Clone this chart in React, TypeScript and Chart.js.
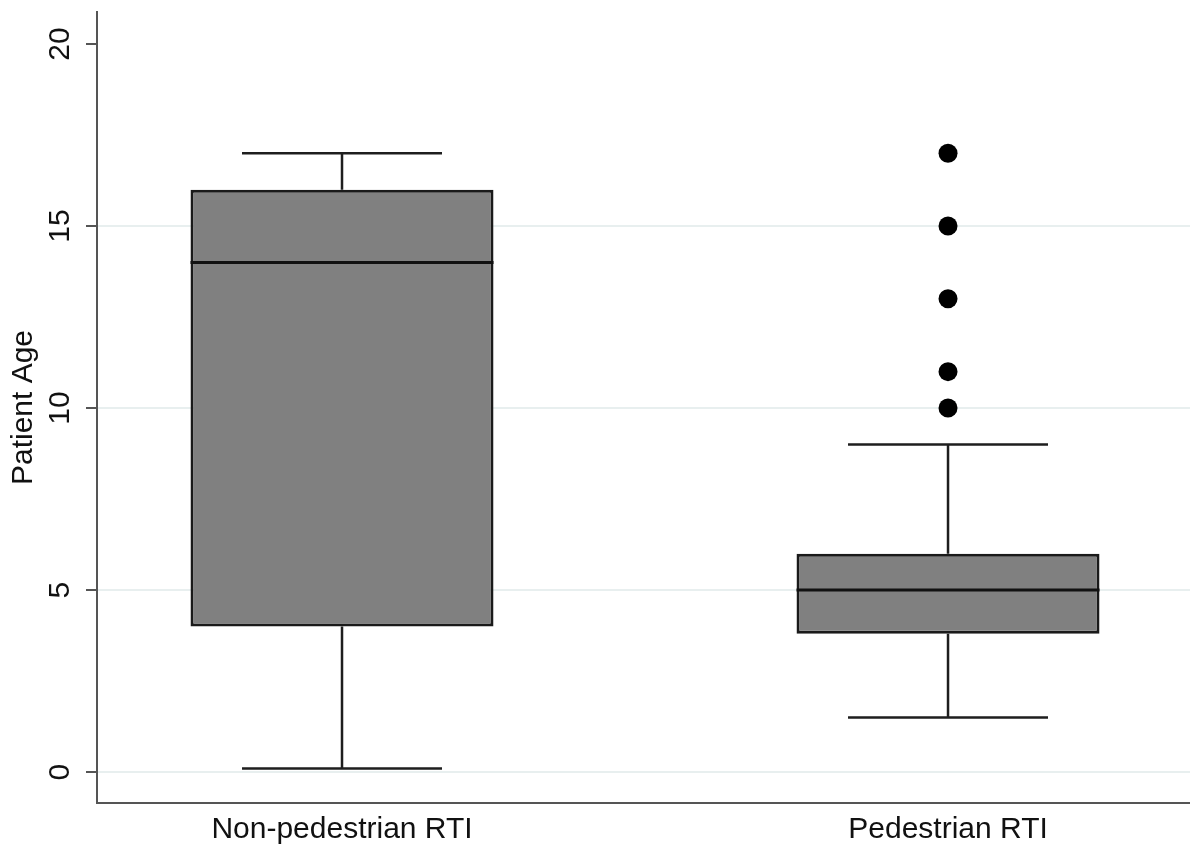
import React, { useEffect, useRef } from "react";
import { Chart, registerables } from "chart.js";

Chart.register(...registerables);

// ---- data ----
const categories = ["Non-pedestrian RTI", "Pedestrian RTI"];
const whiskerLow = [0.1, 1.5];
const q1 = [4, 3.8];
const median = [14, 5];
const q3 = [16, 6];
const whiskerHigh = [17, 9];
const outliersPedestrian = [10, 11, 13, 15, 17];
const yTickValues = [0, 5, 10, 15, 20];
const yTitle = "Patient Age";

const FONT = "'Liberation Sans', Arial, Helvetica, sans-serif";

export default function App() {
  const ref = useRef<HTMLCanvasElement | null>(null);

  useEffect(() => {
    const canvas = ref.current;
    if (!canvas) return;

    const positions = categories.map((_, i) => i + 1);
    const capHalf = 0.165;
    const boxHalf = 0.25;

    const whiskerPts: any[] = [];
    const medianPts: any[] = [];
    positions.forEach((x, i) => {
      whiskerPts.push({ x, y: q3[i] }, { x, y: whiskerHigh[i] }, { x, y: null });
      whiskerPts.push({ x: x - capHalf, y: whiskerHigh[i] }, { x: x + capHalf, y: whiskerHigh[i] }, { x, y: null });
      whiskerPts.push({ x, y: q1[i] }, { x, y: whiskerLow[i] }, { x, y: null });
      whiskerPts.push({ x: x - capHalf, y: whiskerLow[i] }, { x: x + capHalf, y: whiskerLow[i] }, { x, y: null });
      medianPts.push({ x: x - boxHalf, y: median[i] }, { x: x + boxHalf, y: median[i] }, { x, y: null });
    });

    const yLabelPlugin = {
      id: "yRotLabels",
      afterDraw(chart: any) {
        const ctx = chart.ctx;
        const ys = chart.scales.y;
        ctx.save();
        ctx.fillStyle = "#111";
        ctx.font = `30px ${FONT}`;
        ctx.textAlign = "center";
        ctx.textBaseline = "middle";
        yTickValues.forEach((v) => {
          const py = ys.getPixelForValue(v);
          ctx.save();
          ctx.translate(61, py);
          ctx.rotate(-Math.PI / 2);
          ctx.fillText(String(v), 0, 0);
          ctx.restore();
        });
        ctx.restore();
      },
    };

    const chart = new Chart(canvas, {
      type: "bar",
      data: {
        datasets: [
          {
            type: "bar",
            data: positions.map((x, i) => ({ x, y: [q1[i], q3[i]] })) as any,
            backgroundColor: "#808080",
            borderColor: "#1a1a1a",
            borderWidth: 3,
            borderSkipped: false,
            barPercentage: 0.5,
            categoryPercentage: 1,
            order: 3,
          } as any,
          {
            type: "line",
            data: whiskerPts,
            borderColor: "#1e1e1e",
            borderWidth: 2.5,
            pointRadius: 0,
            spanGaps: false,
            fill: false,
            order: 4,
          } as any,
          {
            type: "line",
            data: medianPts,
            borderColor: "#111",
            borderWidth: 3,
            pointRadius: 0,
            spanGaps: false,
            fill: false,
            order: 2,
          } as any,
          {
            type: "scatter",
            data: outliersPedestrian.map((v) => ({ x: positions[1], y: v })),
            backgroundColor: "#000",
            borderColor: "#000",
            pointRadius: 9.5,
            borderWidth: 0,
            order: 1,
          } as any,
        ],
      },
      options: {
        responsive: false,
        animation: false,
        events: [],
        layout: { autoPadding: false, padding: { top: 12, right: 0, bottom: 0, left: 0 } },
        plugins: { legend: { display: false }, tooltip: { enabled: false } },
        scales: {
          x: {
            type: "linear",
            min: 0.5957,
            max: 2.3993,
            offset: false,
            grid: { display: false, drawTicks: false },
            border: { display: true, color: "#555", width: 2 },
            afterBuildTicks: (scale: any) => {
              scale.ticks = positions.map((v) => ({ value: v }));
            },
            afterFit: (scale: any) => {
              scale.height = 50;
              scale.paddingLeft = 0;
              scale.paddingRight = 0;
            },
            ticks: {
              padding: 9,
              autoSkip: false,
              maxRotation: 0,
              minRotation: 0,
              color: "#111",
              font: { family: FONT, size: 30 },
              callback: (v: any) => {
                const idx = positions.indexOf(Number(v));
                return idx >= 0 ? categories[idx] : "";
              },
            },
          },
          y: {
            type: "linear",
            min: -0.85,
            max: 20.88,
            border: { display: true, color: "#555", width: 2 },
            grid: {
              drawTicks: true,
              tickLength: 11,
              tickWidth: 2,
              tickColor: "#555",
              lineWidth: 2,
              color: (c: any) =>
                c.tick && c.tick.value < 20 && c.tick.value >= 0 ? "#e8efef" : "rgba(0,0,0,0)",
            },
            ticks: {
              display: false,
              stepSize: 5,
              includeBounds: false,
            },
            afterFit: (scale: any) => {
              scale.width = 97;
            },
            title: {
              display: true,
              text: yTitle,
              color: "#111",
              font: { family: FONT, size: 30 },
              padding: { top: 6, bottom: 0 },
            },
          },
        },
      },
      plugins: [yLabelPlugin],
    } as any);

    return () => chart.destroy();
  }, []);

  return (
    <div style={{ position: "absolute", left: 0, top: 0, width: 1190, height: 853, background: "#fff" }}>
      <canvas ref={ref} width={1190} height={853} style={{ display: "block" }} />
    </div>
  );
}
